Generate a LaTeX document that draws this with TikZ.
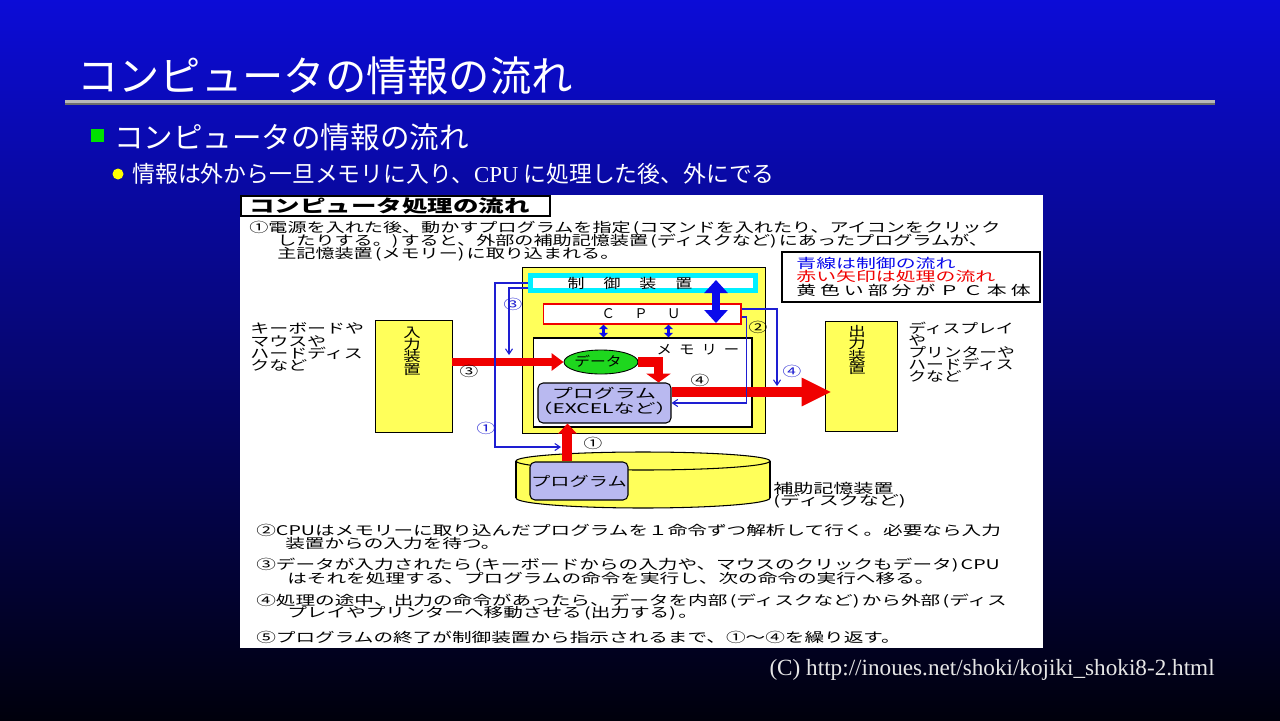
\documentclass[tikz,border=0pt]{standalone}
\usepackage{fontspec}
\usepackage{graphicx}
\usetikzlibrary{arrows.meta,shapes.geometric}
\newfontfamily\jp{Noto Sans CJK JP}
\newfontfamily\ser{Liberation Serif}
\newcommand\sx[2][1.45]{\scalebox{#1}[1]{#2}}
\newcommand\lp{\kern0.12em(}
\newcommand\rp{)\kern0.12em}
\setlength{\lineskiplimit}{-100pt}
\definecolor{bgtop}{RGB}{12,12,215}
\definecolor{bgmid}{RGB}{6,6,135}
\definecolor{bgbot}{RGB}{0,0,12}
\definecolor{lineA}{RGB}{185,185,185}
\definecolor{lineB}{RGB}{110,110,110}
\definecolor{bgreen}{RGB}{0,225,0}
\definecolor{bullety}{RGB}{255,255,0}
\definecolor{foot}{RGB}{230,230,230}
\definecolor{pcyel}{RGB}{255,255,90}
\definecolor{pcred}{RGB}{240,0,0}
\definecolor{lnblue}{RGB}{30,30,210}
\definecolor{bigblue}{RGB}{10,10,235}
\definecolor{lav}{RGB}{185,185,240}
\definecolor{dgreen}{RGB}{30,215,30}
\definecolor{cyanb}{RGB}{0,240,255}
\tikzset{
  jt/.style={font=\jp\fontsize{7.6}{6.9}\selectfont, inner sep=0pt, anchor=west, text=black},
  cn/.style={font=\jp\fontsize{7.6}{6.9}\selectfont, inner sep=0pt, text=black},
  bn/.style={cn, text=lnblue},
  ybox/.style={draw=black, fill=pcyel, line width=0.5pt, inner sep=0pt},
  thinblue/.style={draw=lnblue, line width=0.6pt, -{Straight Barb[length=3pt,width=4pt]}},
  smallblue/.style={draw=bigblue, line width=1.2pt, {Triangle[length=2.6pt,width=5pt]}-{Triangle[length=2.6pt,width=5pt]}},
}
\begin{document}
\begin{tikzpicture}[x=0.02cm,y=-0.02cm]
\useasboundingbox (0,0) rectangle (1280,720);
\shade[top color=bgtop, middle color=bgmid, bottom color=bgbot] (0,0) rectangle (1280,720);

% slide header
\node[anchor=west, text=white, font=\jp\fontsize{23.5}{28}\selectfont, inner sep=0pt] (title) at (77,76) {コンピュータの情報の流れ};
\fill[lineA] (65,100) rectangle (1215,103);
\fill[lineB] (65,103) rectangle (1215,105);
\node[fill=bgreen, minimum size=0.26cm, inner sep=0pt] (b1sq) at (97.5,135.5) {};
\node[anchor=west, text=white, font=\jp\fontsize{16.8}{20}\selectfont, inner sep=0pt] (b1t) at (114,137) {コンピュータの情報の流れ};
\node[circle, fill=bullety, minimum size=0.22cm, inner sep=0pt] (b2c) at (118,174) {};
\node[anchor=west, text=white, font=\jp\fontsize{13}{15}\selectfont, inner sep=0pt] (b2t) at (132,174) {情報は外から一旦メモリに入り、{\ser CPU} に処理した後、外にでる};
\node[anchor=east, text=foot, font=\ser\fontsize{13.2}{15}\selectfont, inner sep=0pt] (foot) at (1215,670) {(C) http://inoues.net/shoki/kojiki\_shoki8-2.html};

% white figure area
\fill[white] (240,195) rectangle (1043,648);

% figure title
\node[draw=black, line width=1.2pt, minimum width=6.18cm, minimum height=0.4cm, inner sep=0pt] (dtitle) at (395.5,206) {};
\node[jt, font=\jp\bfseries\fontsize{9.8}{11}\selectfont] (dtt) at (249,206) {\sx[1.48]{コンピュータ処理の流れ}};

% paragraph 1
\node[jt] (p1a) at (249,228) {\sx[1.43]{①電源を入れた後、動かすプログラムを指定\lp コマンドを入れたり、アイコンをクリック}};
\node[jt] (p1b) at (277,241) {\sx[1.43]{したりする。\rp すると、外部の補助記憶装置\lp ディスクなど\rp にあったプログラムが、}};
\node[jt] (p1c) at (277,254) {\sx[1.43]{主記憶装置\lp メモリー\rp に取り込まれる。}};

% legend
\node[draw=black, line width=0.7pt, fill=white, minimum width=5.16cm, minimum height=1.0cm, inner sep=0pt] (legend) at (911,277) {};
\node[jt, text=bigblue] (lg1) at (796,263) {\sx[1.49]{青線は制御の流れ}};
\node[jt, text=pcred] (lg2) at (796,276) {\sx[1.49]{赤い矢印は処理の流れ}};
\node[jt] (lg3) at (796,290) {\sx[1.49]{黄\hspace{1.5pt}色\hspace{1.5pt}い\hspace{1.5pt}部\hspace{1.5pt}分\hspace{1.5pt}が\hspace{1.5pt}Ｐ\hspace{1.5pt}Ｃ\hspace{1.5pt}本\hspace{1.5pt}体}};

% PC body
\node[ybox, minimum width=4.86cm, minimum height=3.32cm] (pc) at (643.5,350) {};
\node[draw=cyanb, fill=white, line width=2.8pt, minimum width=4.5cm, minimum height=0.3cm, inner sep=0pt] (ctrl) at (643,283) {};
\node[cn] (ctrlt) at (630,283) {\sx[1.27]{制\hspace{8.5pt}御\hspace{8.5pt}装\hspace{8.5pt}置}};
\node[draw=pcred, fill=white, line width=0.6pt, minimum width=3.96cm, minimum height=0.4cm, inner sep=0pt] (cpu) at (642,314) {};
\node[cn] (cput) at (641,314) {Ｃ\hspace{11pt}Ｐ\hspace{11pt}Ｕ};
\node[draw=black, fill=white, line width=0.6pt, minimum width=4.38cm, minimum height=1.78cm, inner sep=0pt] (mem) at (642.5,382.5) {};
\node[cn] (memt) at (698,350) {\sx[1.15]{メ\hspace{3.5pt}モ\hspace{3.5pt}リ\hspace{3.5pt}ー}};
\node[ellipse, draw=black, fill=dgreen, line width=0.5pt, minimum width=1.48cm, minimum height=0.48cm, inner sep=0pt] (data) at (601,362) {};
\node[cn] (datat) at (598,361) {\sx[1.18]{データ}};
\node[draw=black, fill=lav, rounded corners=0.1cm, line width=0.6pt, minimum width=2.66cm, minimum height=0.8cm, inner sep=0pt] (prog) at (604.5,403) {};
\node[cn, align=center] (progt) at (604,401) {\sx[1.57]{プログラム}\\[1.5pt]\sx[1.57]{（EXCELなど）}};

% input / output devices
\node[ybox, minimum width=1.54cm, minimum height=2.24cm] (inp) at (413.5,376) {};
\node[cn, align=center, font=\jp\fontsize{7.6}{7}\selectfont] (inpt) at (412,351) {\sx[1.3]{入}\\\sx[1.3]{力}\\\sx[1.3]{装}\\\sx[1.3]{置}};
\node[ybox, minimum width=1.44cm, minimum height=2.2cm] (outp) at (861,376) {};
\node[cn, align=center, font=\jp\fontsize{7.6}{7}\selectfont] (outpt) at (857,350) {\sx[1.3]{出}\\\sx[1.3]{力}\\\sx[1.3]{装}\\\sx[1.3]{置}};
\node[jt, align=left] (inlab) at (250,347) {\sx[1.42]{キーボードや}\\\sx[1.42]{マウスや}\\\sx[1.42]{ハードディス}\\\sx[1.42]{クなど}};
\node[jt, align=left] (outlab) at (908,352) {\sx[1.33]{ディスプレイ}\\\sx[1.33]{や}\\\sx[1.33]{プリンターや}\\\sx[1.33]{ハードディス}\\\sx[1.33]{クなど}};

% disk cylinder
\fill[pcyel] (516,461) rectangle (770,498);
\fill[pcyel] (643,498) ellipse [x radius=2.54cm, y radius=0.2cm];
\fill[pcyel] (643,461) ellipse [x radius=2.54cm, y radius=0.18cm];
\draw[line width=0.6pt] (516,461) -- (516,498);
\draw[line width=0.6pt] (770,461) -- (770,498);
\draw[line width=0.6pt] (643,461) ellipse [x radius=2.54cm, y radius=0.18cm];
\draw[line width=0.6pt] (516,498) arc [start angle=180, end angle=360, x radius=2.54cm, y radius=0.2cm];
\node[draw=black, fill=lav, rounded corners=0.1cm, line width=0.6pt, minimum width=1.96cm, minimum height=0.76cm, inner sep=0pt] (dprog) at (579,481) {};
\node[cn] (dprogt) at (579,481) {\sx[1.44]{プログラム}};
\node[jt, align=left] (disklab) at (773,495) {\sx[1.5]{補助記憶装置}\\\sx[1.5]{(ディスクなど)}};

% red processing arrows
\coordinate (pd) at ([xshift=-0.26cm]prog.north east);
\coordinate (po) at ([yshift=0.22cm]prog.east);
\coordinate (oo) at ([xshift=0.14cm]outp.west);
\coordinate (pu) at ([xshift=0.6cm]prog.south west);
\draw[pcred, line width=4pt, -{Triangle[length=6.8pt,width=9.6pt]}] (inp.east |- data.west) -- (data.west);
\draw[pcred, line width=5.4pt, -{Triangle[length=5pt,width=13.6pt]}] (data.east) -| (pd);
\draw[pcred, line width=5.7pt, -{Triangle[length=17pt,width=15pt]}] (po) -- (oo |- po);
\draw[pcred, line width=5.7pt, -{Triangle[length=5.7pt,width=10.2pt]}] (pu |- dprog.north) -- (pu);

% blue control arrows
\coordinate (bb1) at (716,280);
\coordinate (bb2) at (716,323);
\draw[bigblue, line width=4pt, {Triangle[length=7.4pt,width=13pt]}-{Triangle[length=7.4pt,width=13pt]}] (bb1) -- (bb2);
\coordinate (s1) at ([xshift=-0.77cm]cpu.south);
\coordinate (s2) at ([xshift=0.53cm]cpu.south);
\draw[smallblue] (s1) -- (s1 |- mem.north);
\draw[smallblue] (s2) -- (s2 |- mem.north);
\coordinate (c1) at (495,447);
\coordinate (c2) at (561,447);
\coordinate (d1) at (509,355);
\coordinate (e1) at (777,386);
\coordinate (cw2) at ([yshift=-0.1cm]ctrl.west);
\coordinate (ce1) at ([yshift=-0.06cm]cpu.east);
\coordinate (ce2) at ([yshift=0.1cm]cpu.east);
\draw[thinblue] (ctrl.west) -| (c1) -- (c2);
\draw[thinblue] (cw2) -| (d1);
\draw[thinblue] (ce1) -- ++(0.1cm,0) |- (prog.east);
\draw[thinblue] (ce2) -| (e1);

% step numbers
\node[cn] (n3) at (469,371) {\sx[1.4]{③}};
\node[cn] (n1) at (593,443) {\sx[1.4]{①}};
\node[cn] (n4) at (700,380) {\sx[1.4]{④}};
\node[cn] (n2) at (758,327) {\sx[1.4]{②}};
\node[bn] (bn3) at (513,304) {\sx[1.4]{③}};
\node[bn] (bn1) at (486,428) {\sx[1.4]{①}};
\node[bn] (bn4) at (792,371) {\sx[1.4]{④}};

% lower paragraphs
\node[jt] (p2a) at (256,530) {\sx[1.47]{②CPUはメモリーに取り込んだプログラムを１命令ずつ解析して行く。必要なら入力}};
\node[jt] (p2b) at (285,543) {\sx[1.47]{装置からの入力を待つ。}};
\node[jt] (p3a) at (256,565) {\sx[1.47]{③データが入力されたら\lp キーボードからの入力や、マウスのクリックもデータ\rp CPU}};
\node[jt] (p3b) at (287,578) {\sx[1.47]{はそれを処理する、プログラムの命令を実行し、次の命令の実行へ移る。}};
\node[jt] (p4a) at (256,601) {\sx[1.47]{④処理の途中、出力の命令があったら、データを内部\lp ディスクなど\rp から外部\lp ディス}};
\node[jt] (p4b) at (287,613) {\sx[1.47]{プレイやプリンターへ移動させる\lp 出力する\rp 。}};
\node[jt] (p5) at (256,637) {\sx[1.47]{⑤プログラムの終了が制御装置から指示されるまで、①〜④を繰り返す。}};
\end{tikzpicture}
\end{document}
